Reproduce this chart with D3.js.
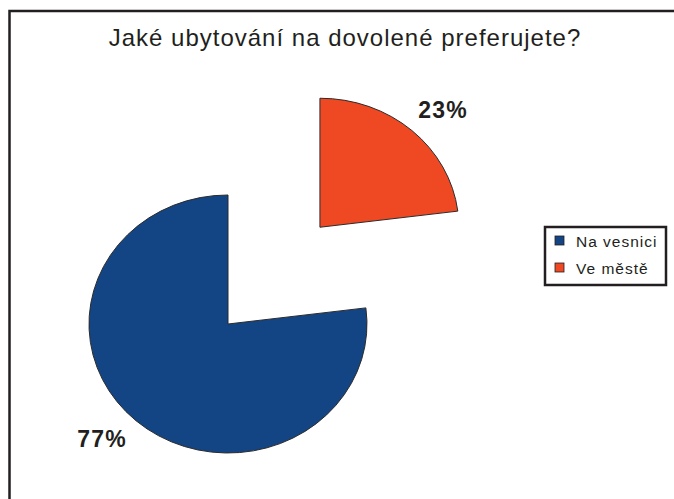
<!DOCTYPE html>
<html>
<head>
<meta charset="utf-8">
<script src="https://cdn.jsdelivr.net/npm/d3@7"></script>
<style>
  body { margin: 0; background: #fff; }
  text { font-family: "Liberation Sans", Arial, sans-serif; fill: #231f20; }
</style>
</head>
<body>
<div id="container"></div>
<script>
// Data
const categories = ["Ve městě", "Na vesnici"];
const values = [23, 77];
const legendOrder = ["Na vesnici", "Ve městě"];
const title = "Jaké ubytování na dovolené preferujete?";

const width = 674;
const height = 499;

// Pie is drawn slightly squashed (wider than tall)
const cx = 228, cy = 324;
const rx = 139, ry = 129;

const colour = d3.scaleOrdinal()
  .domain(categories)
  .range(["#ef4923", "#134585"]);

const svg = d3.create("svg").attr("width", width).attr("height", height);
document.getElementById("container").appendChild(svg.node());

// outer frame (only top and left are inside the picture)
svg.append("rect")
  .attr("x", 9.5).attr("y", 11)
  .attr("width", width + 20).attr("height", height + 20)
  .attr("fill", "none")
  .attr("stroke", "#231f20")
  .attr("stroke-width", 2.5);

// title
svg.append("text")
  .attr("x", 345).attr("y", 46)
  .attr("text-anchor", "middle")
  .attr("font-size", "24px")
  .attr("letter-spacing", "1px")
  .text(title);

const pie = d3.pie().sort(null).value(d => d)(values);
const arc = d3.arc().innerRadius(0).outerRadius(1);

const pieG = svg.append("g")
  .attr("transform", `translate(${cx},${cy})`);

// the small slice is exploded by a full radius along its bisector
const explode = (d, i) => {
  if (i !== 0) return [0, 0];
  const mid = (d.startAngle + d.endAngle) / 2;
  return [rx * Math.sin(mid), -ry * Math.cos(mid)];
};

pieG.selectAll("path")
  .data(pie)
  .enter()
  .append("path")
  .attr("transform", (d, i) => {
    const [dx, dy] = explode(d, i);
    return `translate(${dx},${dy}) scale(${rx},${ry})`;
  })
  .attr("d", arc)
  .attr("fill", (d, i) => colour(categories[i]))
  .attr("stroke", "#2b2b2b")
  .attr("stroke-width", 1)
  .attr("vector-effect", "non-scaling-stroke");

// percentage labels
const labelPos = [[443, 118], [102, 447]];
svg.selectAll("text.pct")
  .data(values)
  .enter()
  .append("text")
  .attr("class", "pct")
  .attr("x", (d, i) => labelPos[i][0])
  .attr("y", (d, i) => labelPos[i][1])
  .attr("text-anchor", "middle")
  .attr("font-size", "23px")
  .attr("font-weight", "bold")
  .attr("letter-spacing", "1.2px")
  .text(d => d + "%");

// legend
const legend = svg.append("g").attr("transform", "translate(545,227)");
legend.append("rect")
  .attr("width", 121).attr("height", 58)
  .attr("fill", "#fff")
  .attr("stroke", "#231f20")
  .attr("stroke-width", 2.5);

const item = legend.selectAll("g.item")
  .data(legendOrder)
  .enter()
  .append("g")
  .attr("class", "item")
  .attr("transform", (d, i) => `translate(10,${9 + i * 27})`);

item.append("rect")
  .attr("width", 9).attr("height", 9)
  .attr("fill", d => colour(d))
  .attr("stroke", "#231f20")
  .attr("stroke-width", 0.8);

item.append("text")
  .attr("x", 21).attr("y", 11)
  .attr("font-size", "15.5px")
  .attr("letter-spacing", "1px")
  .text(d => d);
</script>
</body>
</html>
